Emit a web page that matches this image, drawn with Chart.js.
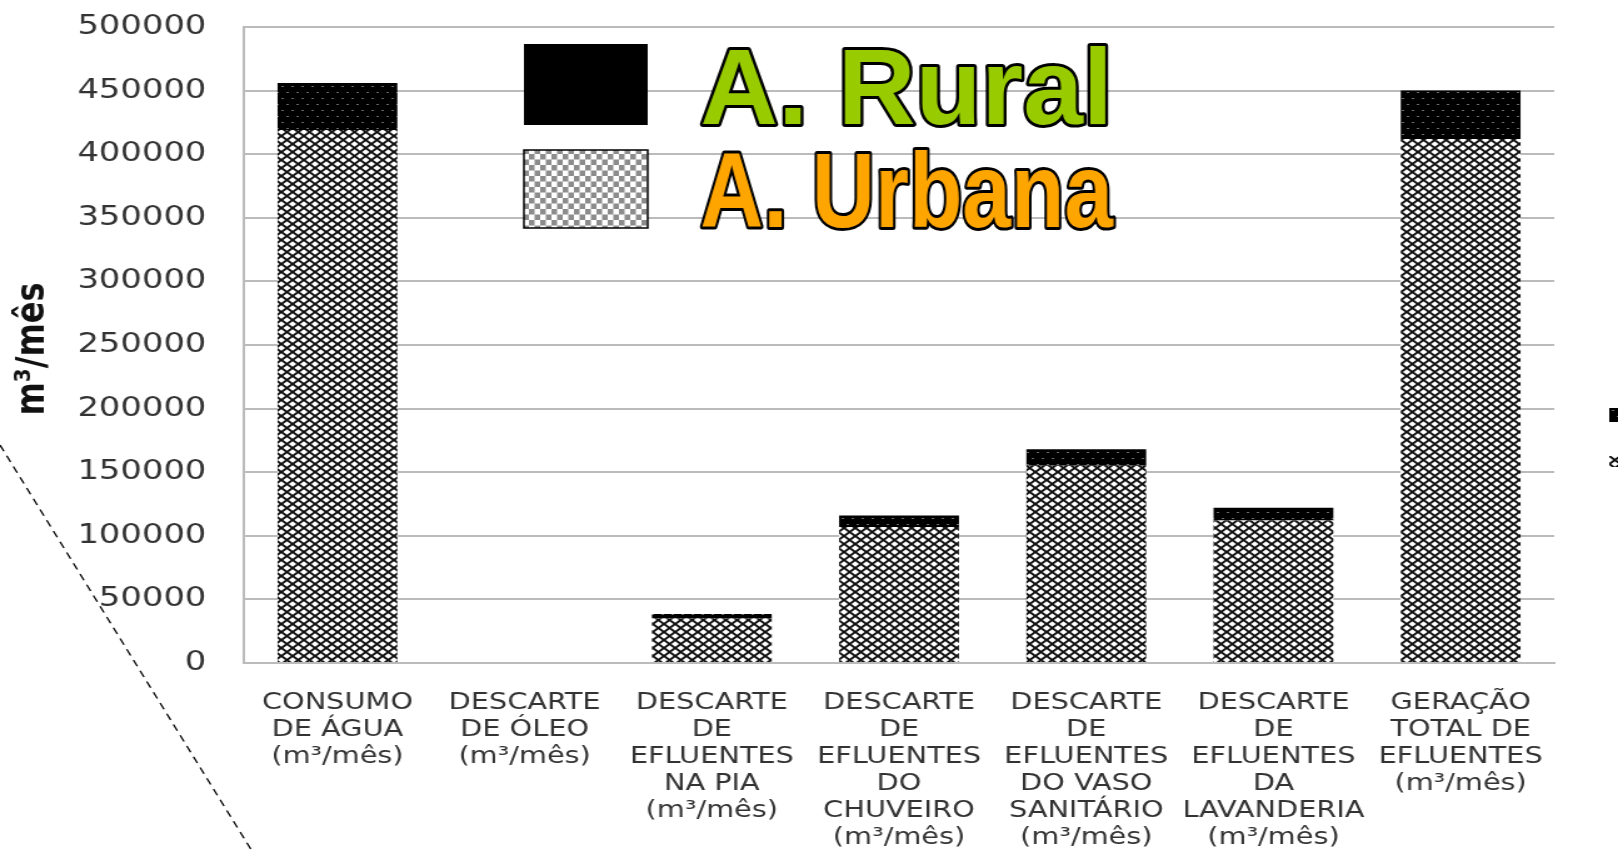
<!DOCTYPE html>
<html>
<head>
<meta charset="utf-8">
<script src="https://cdn.jsdelivr.net/npm/chart.js@4.4.1/dist/chart.umd.min.js"></script>
<style>
  body { margin: 0; background: #fff; overflow: hidden; }
  /* the source picture is stretched sideways, so the whole chart is too */
  #wrap { width: 1294px; height: 852px; position: relative; transform: scaleX(1.2504); transform-origin: 0 0; }
</style>
</head>
<body>
<div id="wrap"><canvas id="barChart"></canvas></div>
<script>
// data
var categories = [
    ['CONSUMO', 'DE ÁGUA', '(m³/mês)'],
    ['DESCARTE', 'DE ÓLEO', '(m³/mês)'],
    ['DESCARTE', 'DE', 'EFLUENTES', 'NA PIA', '(m³/mês)'],
    ['DESCARTE', 'DE', 'EFLUENTES', 'DO', 'CHUVEIRO', '(m³/mês)'],
    ['DESCARTE', 'DE', 'EFLUENTES', 'DO VASO', 'SANITÁRIO', '(m³/mês)'],
    ['DESCARTE', 'DE', 'EFLUENTES', 'DA', 'LAVANDERIA', '(m³/mês)'],
    ['GERAÇÃO', 'TOTAL DE', 'EFLUENTES', '(m³/mês)']
];
var urbana = [419000, 0, 35000, 107000, 155000, 112000, 412000];
var rural = [37000, 0, 3500, 9000, 13000, 10000, 38000];
var seriesNames = ['A. Urbana', 'A. Rural'];
var yTitle = 'm³/mês';

// fill patterns
function makePattern(w, h, draw) {
    var c = document.createElement('canvas');
    c.width = w; c.height = h;
    var g = c.getContext('2d');
    draw(g, w, h);
    return g.createPattern(c, 'repeat');
}
var ctx = document.getElementById('barChart').getContext('2d');

var hatch = makePattern(9, 8, function (g, w, h) {
    g.fillStyle = '#fff';
    g.fillRect(0, 0, w, h);
    g.strokeStyle = '#111';
    g.lineWidth = 2;
    g.beginPath();
    g.moveTo(-w, -h); g.lineTo(2 * w, 2 * h);
    g.moveTo(2 * w, -h); g.lineTo(-w, 2 * h);
    g.stroke();
});
var dots = makePattern(8, 12, function (g, w, h) {
    g.fillStyle = '#000';
    g.fillRect(0, 0, w, h);
    g.fillStyle = '#6a6a6a';
    g.fillRect(1, 2, 2, 1);
    g.fillRect(5, 8, 2, 1);
});
var checker = makePattern(9, 11, function (g, w, h) {
    g.fillStyle = '#fff';
    g.fillRect(0, 0, w, h);
    g.fillStyle = '#8c8c8c';
    g.fillRect(0, 0, 4.5, 5.5);
    g.fillRect(4.5, 5.5, 4.5, 5.5);
});

// axis title, the big legend, the cut legend at the edge and the dashed line
var extras = {
    id: 'extras',
    afterDraw: function (chart) {
        var c = chart.ctx;
        c.save();

        // y title
        c.save();
        c.translate(27, 349);
        c.rotate(-Math.PI / 2);
        c.font = 'bold 32px "DejaVu Sans"';
        c.fillStyle = '#111';
        c.textAlign = 'center';
        c.textBaseline = 'middle';
        c.fillText(yTitle, 0, 0);
        c.restore();

        // big legend
        c.fillStyle = '#000';
        c.fillRect(419, 44, 99, 81);
        c.fillStyle = checker;
        c.fillRect(419, 150, 99, 78);
        c.strokeStyle = '#000';
        c.lineWidth = 1.5;
        c.strokeRect(419, 150, 99, 78);

        var items = [
            { text: chart.data.datasets[1].label, color: '#99cc00', base: 124, size: 107 },
            { text: chart.data.datasets[0].label, color: '#ffa500', base: 227, size: 105 }
        ];
        c.textAlign = 'left';
        c.textBaseline = 'alphabetic';
        c.lineJoin = 'round';
        items.forEach(function (it) {
            c.font = 'bold ' + it.size + 'px "Liberation Sans"';
            var w = c.measureText(it.text).width;
            c.save();
            c.translate(560, it.base);
            c.scale(330 / w, 1);
            c.lineWidth = 6;
            c.strokeStyle = '#000';
            c.strokeText(it.text, 0, 0);
            c.fillStyle = it.color;
            c.fillText(it.text, 0, 0);
            c.restore();
        });

        // cut-off legend markers at the right edge
        c.fillStyle = dots;
        c.fillRect(1287, 408, 10, 14);
        c.fillStyle = hatch;
        c.fillRect(1287, 456, 10, 11);

        // dashed diagonal line
        c.setLineDash([7, 5]);
        c.strokeStyle = '#000';
        c.lineWidth = 1.3;
        c.beginPath();
        c.moveTo(0, 445);
        c.lineTo(202, 852);
        c.stroke();
        c.restore();
    }
};

var barChart = new Chart(ctx, {
    type: 'bar',
    data: {
        labels: categories,
        datasets: [{
            label: seriesNames[0],
            data: urbana,
            backgroundColor: hatch,
            borderWidth: 0
        }, {
            label: seriesNames[1],
            data: rural,
            backgroundColor: dots,
            borderWidth: 0
        }]
    },
    options: {
        responsive: true,
        maintainAspectRatio: false,
        animation: false,
        layout: { padding: { top: 27, right: 51, left: 0, bottom: 0 } },
        plugins: {
            legend: { display: false },
            tooltip: { enabled: false }
        },
        datasets: {
            bar: { categoryPercentage: 0.8, barPercentage: 0.8 }
        },
        scales: {
            x: {
                stacked: true,
                grid: { display: false, drawTicks: false },
                border: { color: '#bbb', width: 2 },
                ticks: {
                    autoSkip: false,
                    maxRotation: 0,
                    minRotation: 0,
                    padding: 26,
                    color: '#333',
                    font: { family: 'DejaVu Sans', size: 23, lineHeight: 1.18 }
                },
                afterFit: function (s) { s.height = 189; s.paddingLeft = 0; s.paddingRight = 0; }
            },
            y: {
                stacked: true,
                min: 0,
                max: 500000,
                ticks: {
                    stepSize: 50000,
                    padding: 30,
                    color: '#333',
                    font: { family: 'DejaVu Sans', size: 27 },
                    callback: function (v) { return String(v); }
                },
                grid: { color: '#bbb', lineWidth: 2, drawTicks: false },
                border: { color: '#bbb', width: 2 },
                afterFit: function (s) { s.width = 195; s.paddingTop = 0; s.paddingBottom = 0; }
            }
        }
    },
    plugins: [extras]
});
</script>
</body>
</html>
